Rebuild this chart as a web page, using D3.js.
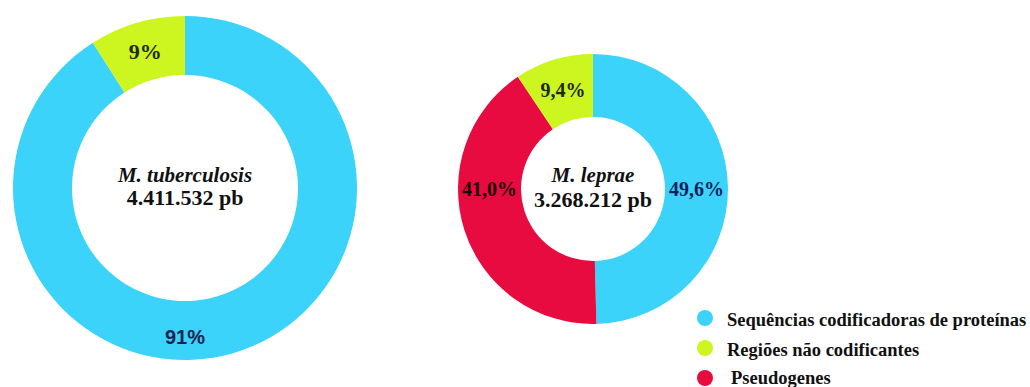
<!DOCTYPE html>
<html>
<head>
<meta charset="utf-8">
<script src="https://cdn.jsdelivr.net/npm/d3@7"></script>
<style>
  html, body { margin: 0; padding: 0; background: #ffffff; }
  svg { display: block; }
</style>
</head>
<body>
<svg id="chart" width="1030" height="387"></svg>
<script>
// Genome composition of two mycobacteria (share of genome, %)
const categories = ["Sequências codificadoras de proteínas", "Regiões não codificantes", "Pseudogenes"];
const categoryColors = ["#3cd3fa", "#cdf51f", "#e70b3f"];

const tbSlices = ["Sequências codificadoras de proteínas", "Regiões não codificantes"];
const tbValues = [91, 9];
const tbLabels = ["91%", "9%"];

const lepraeSlices = ["Sequências codificadoras de proteínas", "Pseudogenes", "Regiões não codificantes"];
const lepraeValues = [49.6, 41.0, 9.4];
const lepraeLabels = ["49,6%", "41,0%", "9,4%"];

const organisms = ["M. tuberculosis", "M. leprae"];
const genomeSizes = ["4.411.532 pb", "3.268.212 pb"];

const svg = d3.select("#chart");
const color = d3.scaleOrdinal().domain(categories).range(categoryColors);
const pie = d3.pie().sort(null).value(d => d.value);
const serif = "'Liberation Serif', 'Times New Roman', serif";

function donut(cfg) {
  const data = cfg.slices.map((c, i) => ({ cat: c, value: cfg.values[i], label: cfg.labels[i] }));
  const arcs = pie(data);
  const arc = d3.arc().innerRadius(cfg.inner).outerRadius(cfg.outer);
  const g = svg.append("g").attr("transform", `translate(${cfg.cx},${cfg.cy})`);

  g.selectAll("path.slice")
    .data(arcs)
    .join("path")
    .attr("class", "slice")
    .attr("d", arc)
    .attr("fill", d => color(d.data.cat));

  // label sits mid-ring; large slices are labelled on the nearest quarter direction
  const mid = (cfg.inner + cfg.outer) / 2;
  g.selectAll("text.pct")
    .data(arcs)
    .join("text")
    .attr("class", "pct")
    .each(function (d) {
      let a = (d.startAngle + d.endAngle) / 2;
      if (d.value > 40) a = Math.round(a / (Math.PI / 2)) * (Math.PI / 2);
      const r = mid + cfg.labelShift(d);
      d3.select(this)
        .attr("x", r * Math.sin(a))
        .attr("y", -r * Math.cos(a));
    })
    .attr("text-anchor", "middle")
    .attr("dy", "0.35em")
    .attr("font-family", d => cfg.pctFont(d))
    .attr("font-weight", "bold")
    .attr("font-size", d => cfg.pctSize(d))
    .attr("fill", d => cfg.pctColor(d))
    .text(d => d.data.label);

  g.append("text")
    .attr("x", 0).attr("y", cfg.titleY)
    .attr("text-anchor", "middle")
    .attr("font-family", serif)
    .attr("font-style", "italic")
    .attr("font-weight", "bold")
    .attr("font-size", 21)
    .attr("fill", "#111")
    .text(cfg.title);

  g.append("text")
    .attr("x", 0).attr("y", cfg.sizeY)
    .attr("text-anchor", "middle")
    .attr("font-family", serif)
    .attr("font-weight", "bold")
    .attr("font-size", 22)
    .attr("fill", "#111")
    .text(cfg.size);
}

donut({
  cx: 185, cy: 188, outer: 172, inner: 113,
  slices: tbSlices, values: tbValues, labels: tbLabels,
  title: organisms[0], size: genomeSizes[0], titleY: -6, sizeY: 17,
  labelShift: d => d.value > 40 ? 6 : 0,
  pctFont: d => d.value > 40 ? "'Liberation Sans', Arial, sans-serif" : serif,
  pctSize: d => d.value > 40 ? 20 : 22,
  pctColor: d => d.value > 40 ? "#1b2352" : "#1c2a12"
});

donut({
  cx: 593, cy: 189, outer: 135, inner: 72,
  slices: lepraeSlices, values: lepraeValues, labels: lepraeLabels,
  title: organisms[1], size: genomeSizes[1], titleY: -7, sizeY: 18,
  labelShift: () => 0,
  pctFont: () => serif,
  pctSize: () => 20,
  pctColor: d => d.data.cat === categories[0] ? "#0d1f5c" : (d.data.cat === categories[2] ? "#1a0508" : "#1c2a12")
});

// legend
const legend = svg.append("g").attr("transform", "translate(705,318)");
const rows = legend.selectAll("g")
  .data(categories)
  .join("g")
  .attr("transform", (d, i) => `translate(0,${i * 30})`);
rows.append("circle").attr("r", 8).attr("fill", d => color(d));
rows.append("text")
  .attr("x", (d, i) => i === 2 ? 26 : 22)
  .attr("y", (d, i) => i === 2 ? 6 : 8)
  .attr("font-family", serif)
  .attr("font-weight", "bold")
  .attr("font-size", 18.5)
  .attr("fill", "#111")
  .text(d => d);
</script>
</body>
</html>
